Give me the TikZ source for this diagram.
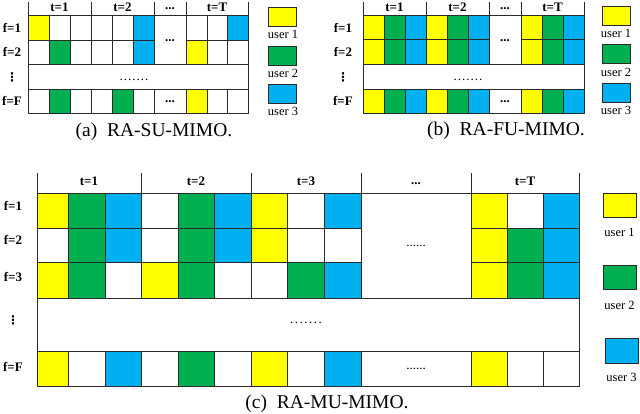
\documentclass[tikz,border=0pt]{standalone}
\usepackage{fontspec}
\setmainfont{Liberation Serif}
\newfontfamily\dvsans{DejaVu Sans}
\definecolor{uy}{HTML}{FFFF00}
\definecolor{ug}{HTML}{00B050}
\definecolor{ub}{HTML}{00B0F0}
\definecolor{gl}{HTML}{2A2A2A}
\tikzset{
 cell/.style={draw=gl, line width=0.9pt},
 lbl/.style={font=\fontsize{13}{13}\selectfont\bfseries, inner sep=0pt},
 usr/.style={font=\fontsize{12.5}{12.5}\selectfont, inner sep=0pt},
 captxt/.style={font=\fontsize{19.5}{19.5}\selectfont, inner sep=0pt, anchor=base},
 dts/.style={font=\fontsize{13}{13}\selectfont, inner sep=0pt, text height=2pt, text depth=0pt},
 bdts/.style={lbl, text height=2pt, text depth=0pt},
 vdt/.style={font=\dvsans\bfseries\fontsize{12}{12}\selectfont, inner sep=0pt},
}
\newcommand\crow[3]{\foreach \xa/\xb/\c in {#3} {\draw[cell,fill=\c] (\xa,#1) rectangle (\xb,#2);}}
\newcommand\rowdots{.\kern1pt.\kern1pt.\kern1pt.\kern1pt.\kern1pt.\kern1pt.}
\begin{document}
\begin{tikzpicture}[x=1pt,y=-1pt]
\useasboundingbox (0,0) rectangle (640,413);
% ================= (a) =================
\foreach \x in {28,91,154,186,248} \draw[cell] (\x,2) -- (\x,15);
\node[lbl] (a-t1) at (59.5,7) {t=1};
\node[lbl] (a-t2) at (122.5,7) {t=2};
\node[bdts] (a-td) at (170,8) {...};
\node[lbl] (a-tT) at (217,7) {t=T};
\crow{15}{40}{28/49/uy,49/70/white,70/91/white,91/112/white,112/133/white,133/154/ub,186/207/white,207/227/white,227/248/ub}
\crow{40}{64}{28/49/white,49/70/ug,70/91/white,91/112/white,112/133/white,133/154/ub,186/207/uy,207/227/white,227/248/white}
\crow{89}{113}{28/49/white,49/70/ug,70/91/white,91/112/white,112/133/ug,133/154/white,186/207/uy,207/227/white,227/248/white}
\draw[cell,fill=white] (154,15) rectangle (186,64);
\draw[cell,fill=white] (154,89) rectangle (186,113);
\draw[cell,fill=white] (28,64) rectangle (248,89);
\node[bdts] (a-d1) at (170,40) {...};
\node[bdts] (a-d2) at (170,101) {...};
\node[dts] (a-dr) at (134,79) {\rowdots};
\node[lbl] (a-f1) at (12,28) {f=1};
\node[lbl] (a-f2) at (12,52) {f=2};
\node[vdt] (a-fv) at (12,77) {⋮};
\node[lbl] (a-fF) at (12,101) {f=F};
\draw[cell,fill=uy] (268,7) rectangle (296,26);
\draw[cell,fill=ug] (268,46) rectangle (296,65);
\draw[cell,fill=ub] (268,84) rectangle (296,103);
\node[usr] (a-u1) at (283,34) {user 1};
\node[usr] (a-u2) at (283,73) {user 2};
\node[usr] (a-u3) at (283,111) {user 3};
\node[captxt] (a-cap) at (154,136) {(a)\ \ RA-SU-MIMO.};
% ================= (b) =================
\foreach \x in {363,426,489,521,584} \draw[cell] (\x,2) -- (\x,15);
\node[lbl] (b-t1) at (394.5,7) {t=1};
\node[lbl] (b-t2) at (457.5,7) {t=2};
\node[bdts] (b-td) at (505,8) {...};
\node[lbl] (b-tT) at (552.5,7) {t=T};
\foreach \ya/\yb in {15/39,39/64,89/113}{
\crow{\ya}{\yb}{363/384/uy,384/405/ug,405/426/ub,426/447/uy,447/468/ug,468/489/ub,521/542/uy,542/563/ug,563/584/ub}
}
\draw[cell,fill=white] (489,15) rectangle (521,64);
\draw[cell,fill=white] (489,89) rectangle (521,113);
\draw[cell,fill=white] (363,64) rectangle (584,89);
\node[bdts] (b-d1) at (505,40) {...};
\node[bdts] (b-d2) at (505,101) {...};
\node[dts] (b-dr) at (468,79) {\rowdots};
\node[lbl] (b-f1) at (343,28) {f=1};
\node[lbl] (b-f2) at (343,52) {f=2};
\node[vdt] (b-fv) at (343,77) {⋮};
\node[lbl] (b-fF) at (343,101) {f=F};
\draw[cell,fill=uy] (602,6) rectangle (630,25);
\draw[cell,fill=ug] (602,44) rectangle (630,63);
\draw[cell,fill=ub] (602,83) rectangle (630,102);
\node[usr] (b-u1) at (616,33) {user 1};
\node[usr] (b-u2) at (616,72) {user 2};
\node[usr] (b-u3) at (616,110) {user 3};
\node[captxt] (b-cap) at (506,135) {(b)\ \ RA-FU-MIMO.};
% ================= (c) =================
\foreach \x in {37,141,251,361,471,579} \draw[cell] (\x,173) -- (\x,193);
\node[lbl] (c-t1) at (89,181) {t=1};
\node[lbl] (c-t2) at (196,181) {t=2};
\node[lbl] (c-t3) at (306,181) {t=3};
\node[bdts] (c-td) at (416,183) {...};
\node[lbl] (c-tT) at (525,181) {t=T};
\crow{193}{228}{37/68/uy,68/105/ug,105/141/ub,141/178/white,178/214/ug,214/251/ub,251/287/uy,287/324/white,324/361/ub,471/507/uy,507/543/white,543/579/ub}
\crow{228}{262}{37/68/white,68/105/ug,105/141/ub,141/178/white,178/214/ug,214/251/ub,251/287/uy,287/324/white,324/361/white,471/507/uy,507/543/ug,543/579/ub}
\crow{262}{298}{37/68/uy,68/105/ug,105/141/white,141/178/uy,178/214/ug,214/251/white,251/287/white,287/324/ug,324/361/ub,471/507/uy,507/543/ug,543/579/ub}
\crow{351}{386}{37/68/uy,68/105/white,105/141/ub,141/178/white,178/214/ug,214/251/white,251/287/uy,287/324/white,324/361/ub,471/507/uy,507/543/white,543/579/white}
\draw[cell,fill=white] (361,193) rectangle (471,298);
\draw[cell,fill=white] (361,351) rectangle (471,386);
\draw[cell,fill=white] (37,298) rectangle (579,351);
\node[dts] (c-d1) at (416,245) {......};
\node[dts] (c-d2) at (416,368) {......};
\node[dts] (c-dr) at (306,322) {.\kern1.5pt.\kern1.5pt.\kern1.5pt.\kern1.5pt.\kern1.5pt.\kern1.5pt.};
\node[lbl] (c-f1) at (13,206) {f=1};
\node[lbl] (c-f2) at (13,240) {f=2};
\node[lbl] (c-f3) at (13,277) {f=3};
\node[vdt] (c-fv) at (13,320) {⋮};
\node[lbl] (c-fF) at (13,367) {f=F};
\draw[cell,fill=uy] (603,193) rectangle (636,217);
\draw[cell,fill=ug] (603,265) rectangle (636,289);
\draw[cell,fill=ub] (605,338) rectangle (638,363);
\node[usr] (c-u1) at (619.5,232) {user 1};
\node[usr] (c-u2) at (619.5,305) {user 2};
\node[usr] (c-u3) at (621.5,377) {user 3};
\node[captxt] (c-cap) at (327,408) {(c)\ \ RA-MU-MIMO.};
\end{tikzpicture}
\end{document}
